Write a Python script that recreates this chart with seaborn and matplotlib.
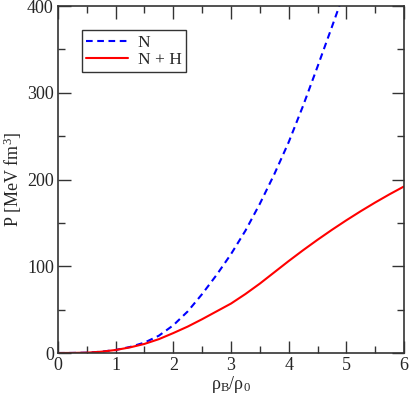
import matplotlib
matplotlib.use("Agg")
import matplotlib.pyplot as plt
import seaborn as sns
import pandas as pd
from matplotlib import font_manager
from matplotlib.ticker import MultipleLocator

# Data
x_n = [0.0, 0.25, 0.5, 0.75, 1.0, 1.25, 1.5, 1.75, 2.0, 2.25, 2.5, 2.75,
       3.0, 3.25, 3.5, 3.75, 4.0, 4.25, 4.5, 4.75, 4.9]
p_n = [0.0, 0.1, 0.4, 1.5, 3.5, 7.0, 12.0, 20.0, 32.0, 48.0, 68.0, 90.0,
       114.0, 141.0, 172.0, 206.0, 243.0, 285.0, 330.0, 376.0, 404.0]
x_nh = [0.0, 0.25, 0.5, 0.75, 1.0, 1.25, 1.5, 1.75, 2.0, 2.25, 2.5, 2.75,
        3.0, 3.25, 3.5, 3.75, 4.0, 4.25, 4.5, 4.75, 5.0, 5.25, 5.5, 5.75, 6.0]
p_nh = [0.0, 0.1, 0.4, 1.5, 3.5, 6.5, 10.5, 16.0, 23.0, 30.5, 39.0, 48.0,
        57.0, 68.0, 80.0, 93.0, 106.0, 118.5, 130.5, 142.0, 153.0, 163.5,
        173.5, 183.0, 192.0]
labels = ["N", "N + H"]

sns.set_style("ticks")
avail = {f.name for f in font_manager.fontManager.ttflist}
serif = next((n for n in ["Liberation Serif", "Times New Roman", "Nimbus Roman",
                          "TeX Gyre Termes", "DejaVu Serif"] if n in avail), "serif")
plt.rcParams["font.family"] = [serif, "DejaVu Serif"]
plt.rcParams["mathtext.fontset"] = "custom"
plt.rcParams["mathtext.rm"] = serif
plt.rcParams["mathtext.it"] = serif + ":italic"

df = pd.concat([
    pd.DataFrame({"x": x_n, "p": p_n, "model": labels[0]}),
    pd.DataFrame({"x": x_nh, "p": p_nh, "model": labels[1]}),
])

fig = plt.figure(figsize=(4.09, 3.95), dpi=100)
ax = fig.add_axes([0.1418, 0.1063, 0.846, 0.8785])

sns.lineplot(data=df, x="x", y="p", hue="model", style="model",
             palette={labels[0]: "#0000ff", labels[1]: "#ff0000"},
             dashes={labels[0]: (3.2, 2.2), labels[1]: ""},
             linewidth=1.5, ax=ax, legend=True)

ax.set_xlim(0, 6)
ax.set_ylim(0, 400)
ax.xaxis.set_major_locator(MultipleLocator(1))
ax.xaxis.set_minor_locator(MultipleLocator(0.5))
ax.yaxis.set_major_locator(MultipleLocator(100))
ax.yaxis.set_minor_locator(MultipleLocator(50))
ax.tick_params(which="both", direction="in", top=True, right=True,
               labelsize=13, color="#333333", width=1.0)
ax.tick_params(which="major", length=9, pad=3)
ax.tick_params(which="minor", length=5)
for s in ax.spines.values():
    s.set_linewidth(1.2)
    s.set_color("#333333")

ax.set_xlabel("ρ$_\\mathrm{B}$/ρ$_0$", fontsize=13, labelpad=0)
ax.set_ylabel("P [MeV fm$^{3}$]", fontsize=13, labelpad=2)

leg = ax.legend(loc="upper left", bbox_to_anchor=(0.068, 0.93), fontsize=12.5,
                frameon=True, fancybox=False, handlelength=2.4,
                borderpad=0.25, labelspacing=0.05, handletextpad=0.6,
                borderaxespad=0)
leg.get_frame().set_edgecolor("black")
leg.get_frame().set_linewidth(1.0)

fig.savefig("out.png", dpi=100)
